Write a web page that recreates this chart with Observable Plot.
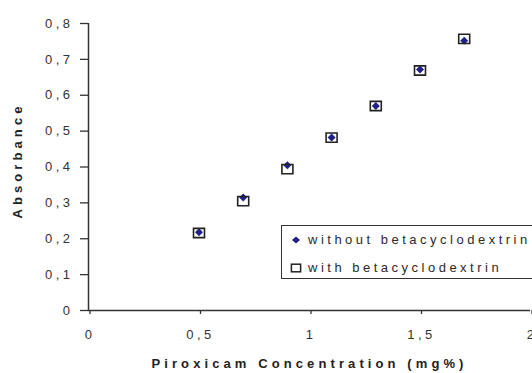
<!DOCTYPE html>
<html>
<head>
<meta charset="utf-8">
<script src="https://cdn.jsdelivr.net/npm/d3@7"></script>
<script src="https://cdn.jsdelivr.net/npm/@observablehq/plot@0.6"></script>
<style>
  html, body { margin: 0; padding: 0; background: #fff; }
  #wrap { position: relative; width: 532px; height: 373px; overflow: hidden; }
  #legend {
    position: absolute; left: 281px; top: 225px; width: 270px; height: 54px;
    border: 1px solid #333; background: #fff; box-sizing: border-box;
    font-family: "Liberation Sans", Arial, sans-serif; font-size: 13px;
    letter-spacing: 3.5px; color: #2a2a2a;
  }
  .row { position: absolute; left: 0; height: 16px; display: flex; align-items: center; }
  .row svg { position: absolute; left: 8px; }
  .row span { position: absolute; left: 26px; white-space: nowrap; line-height: 16px; }
</style>
</head>
<body>
<div id="wrap">
  <div id="chart"></div>
  <div id="legend">
    <div class="row" style="top:6px">
      <svg width="12" height="12" viewBox="-6 -6 12 12"><path d="M0,-3.6L4,0L0,3.6L-4,0Z" fill="#20208a"/></svg>
      <span id="lab0"></span>
    </div>
    <div class="row" style="top:34px">
      <svg width="12" height="12" viewBox="-6 -6 12 12"><rect x="-4.6" y="-3.8" width="9.2" height="7.6" fill="none" stroke="#222" stroke-width="1.5"/></svg>
      <span id="lab1"></span>
    </div>
  </div>
</div>
<script>
const seriesNames = ["without betacyclodextrin", "with betacyclodextrin"];
const concentration = [0.5, 0.7, 0.9, 1.1, 1.3, 1.5, 1.7];
const withoutBCD = [0.218, 0.315, 0.405, 0.482, 0.570, 0.672, 0.752];
const withBCD = [0.216, 0.305, 0.394, 0.482, 0.570, 0.669, 0.757];
const xTicks = [0, 0.5, 1, 1.5, 2];
const xTickLabels = ["0", "0,5", "1", "1,5", "2"];
const yTicks = [0, 0.1, 0.2, 0.3, 0.4, 0.5, 0.6, 0.7, 0.8];
const yTickLabels = ["0", "0,1", "0,2", "0,3", "0,4", "0,5", "0,6", "0,7", "0,8"];
const xLabel = "Piroxicam Concentration (mg%)";
const yLabel = "Absorbance";

const dataWithout = concentration.map((c, i) => ({x: c, y: withoutBCD[i]}));
const dataWith = concentration.map((c, i) => ({x: c, y: withBCD[i]}));

const rectSymbol = {
  draw(context, size) {
    const s = Math.sqrt(size);
    const w = s / 2, h = s * 0.42;
    context.moveTo(-w, -h);
    context.lineTo(w, -h);
    context.lineTo(w, h);
    context.lineTo(-w, h);
    context.closePath();
  }
};

const chart = Plot.plot({
  width: 532,
  height: 373,
  marginLeft: 88,
  marginRight: 2,
  marginTop: 23,
  marginBottom: 63,
  x: {domain: [0, 2]},
  y: {domain: [0, 0.8]},
  style: {
    fontFamily: "'Liberation Sans', Arial, sans-serif",
    fontSize: "13px",
    letterSpacing: "3.5px",
    color: "#333",
    background: "#fff",
    overflow: "visible"
  },
  marks: [
    Plot.axisY(yTicks, {
      tickSize: 8, tickPadding: 7, label: null,
      tickFormat: d => yTickLabels[yTicks.indexOf(d)],
      stroke: "#333", strokeWidth: 1.3
    }),
    Plot.axisX(xTicks, {
      tickSize: 4, tickPadding: 15, label: null, dx: 1.5,
      tickFormat: d => xTickLabels[xTicks.indexOf(d)],
      stroke: "#333", strokeWidth: 1.3
    }),
    Plot.ruleX([0], {stroke: "#333", strokeWidth: 1.5}),
    Plot.ruleY([0], {stroke: "#333", strokeWidth: 1.5}),
    Plot.dot(dataWithout, {x: "x", y: "y", symbol: "diamond2", r: 3.6, fill: "#20208a", stroke: "none"}),
    Plot.dot(dataWith, {x: "x", y: "y", symbol: rectSymbol, r: 6.2, fill: "none", stroke: "#222", strokeWidth: 1.6}),
    Plot.text([xLabel], {
      frameAnchor: "bottom", dy: 53.5, lineAnchor: "middle", textAnchor: "middle", text: d => d,
      fontWeight: "bold", fontSize: 13, fill: "#222"
    }),
    Plot.text([yLabel], {
      frameAnchor: "left", dx: -70.5, dy: -6.5, rotate: -90, lineAnchor: "middle", textAnchor: "middle", text: d => d,
      fontWeight: "bold", fontSize: 13, fill: "#222"
    })
  ]
});
document.getElementById("chart").appendChild(chart);
chart.querySelectorAll("text").forEach(t => {
  if (t.textContent === xLabel || t.textContent === yLabel) t.style.letterSpacing = "4.1px";
});
document.getElementById("lab0").textContent = seriesNames[0];
document.getElementById("lab1").textContent = seriesNames[1];
</script>
</body>
</html>
